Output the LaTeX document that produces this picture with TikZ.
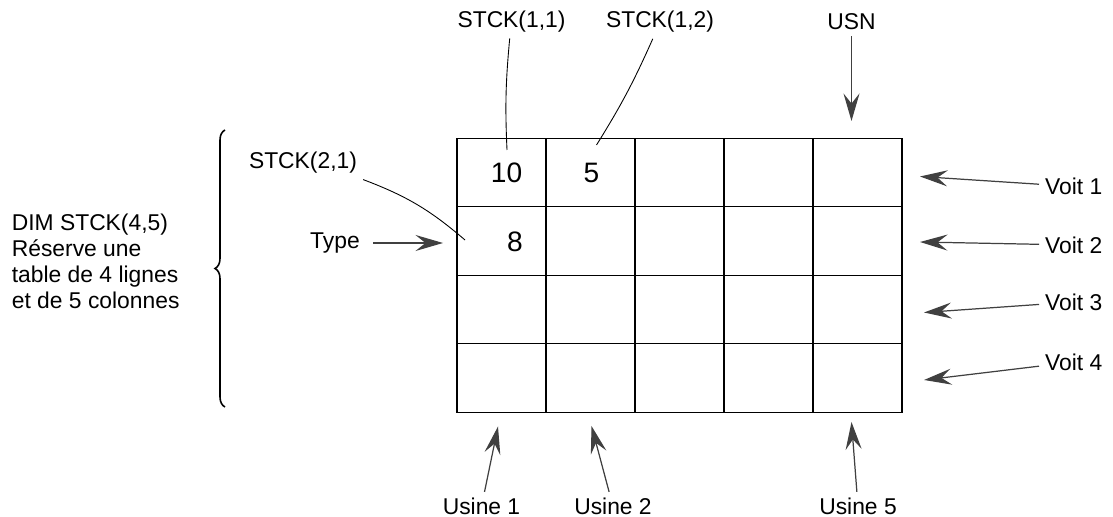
\documentclass[tikz,border=0pt]{standalone}
\usepackage{fontspec}
\setmainfont{Liberation Sans}
\usetikzlibrary{arrows.meta,decorations.pathreplacing}

\tikzstyle{cell} = [rectangle, draw, line width=.6pt, inner sep=0pt,
    minimum width=1.78cm, minimum height=1.37cm]
\tikzstyle{val} = [font=\fontsize{16}{18}\selectfont]
\tikzstyle{lbl} = [font=\fontsize{13}{15}\selectfont]
\tikzstyle{leader} = [draw, line width=.5pt]
\tikzstyle{pointer} = [draw=black!75, line width=.7pt,
    -{Stealth[length=5.5mm, width=3.2mm, inset=2mm, black!75]}]

\begin{document}
\begin{tikzpicture}
	\useasboundingbox (0,0) rectangle (22.26,10.34);
	% table STCK
	\node [cell] (c11) at (10.03,6.89) {};
	\node [cell] (c12) at (11.81,6.89) {};
	\node [cell] (c13) at (13.59,6.89) {};
	\node [cell] (c14) at (15.37,6.89) {};
	\node [cell] (c15) at (17.15,6.89) {};
	%
	\node [cell] (c21) at (10.03,5.52) {};
	\node [cell] (c22) at (11.81,5.52) {};
	\node [cell] (c23) at (13.59,5.52) {};
	\node [cell] (c24) at (15.37,5.52) {};
	\node [cell] (c25) at (17.15,5.52) {};
	%
	\node [cell] (c31) at (10.03,4.15) {};
	\node [cell] (c32) at (11.81,4.15) {};
	\node [cell] (c33) at (13.59,4.15) {};
	\node [cell] (c34) at (15.37,4.15) {};
	\node [cell] (c35) at (17.15,4.15) {};
	%
	\node [cell] (c41) at (10.03,2.78) {};
	\node [cell] (c42) at (11.81,2.78) {};
	\node [cell] (c43) at (13.59,2.78) {};
	\node [cell] (c44) at (15.37,2.78) {};
	\node [cell] (c45) at (17.15,2.78) {};
	%
	\node [val] (n11) at (10.13,6.88) {10};
	\node [val] (n12) at (11.83,6.88) {5};
	\node [val] (n21) at (10.30,5.51) {8};
	% labels above
	\node [lbl] (s11) at (10.23,9.91) {STCK(1,1)};
	\node [lbl] (s12) at (13.20,9.90) {STCK(1,2)};
	\node [lbl] (usn) at (17.03,9.90) {USN};
	\coordinate (p11) at (10.14,7.34);
	\coordinate (p12) at (11.93,7.44);
	\coordinate (pusn) at (17.03,7.92);
	\draw [leader] (s11) to[bend right=4] (p11);
	\draw [leader] (s12) to[bend left=4] (p12);
	\draw [pointer] (usn) -- (pusn);
	% labels left
	\node [lbl] (s21) at (6.06,7.08) {STCK(2,1)};
	\node [lbl] (type) at (6.70,5.48) {Type};
	\coordinate (p21) at (9.30,5.54);
	\coordinate (ptype) at (8.86,5.48);
	\draw [leader] (s21) to[bend left=10] (p21);
	\draw [pointer, shorten <=.15cm] (type) -- (ptype);
	%
	\draw [decorate, decoration={brace, amplitude=.2cm}, line width=.9pt]
		(4.5,2.2) -- (4.5,7.74);
	\node [lbl, anchor=north west, inner sep=0pt, align=left,
		font=\fontsize{13}{14.7}\selectfont] (dim) at (0.23,6.06)
		{DIM STCK(4,5)\\Réserve une\\table de 4 lignes\\et de 5 colonnes};
	% labels right
	\node [lbl, anchor=west] (v1) at (20.78,6.61) {Voit 1};
	\node [lbl, anchor=west] (v2) at (20.78,5.44) {Voit 2};
	\node [lbl, anchor=west] (v3) at (20.78,4.30) {Voit 3};
	\node [lbl, anchor=west] (v4) at (20.78,3.10) {Voit 4};
	\coordinate (t1) at (18.40,6.81);
	\coordinate (t2) at (18.40,5.50);
	\coordinate (t3) at (18.48,4.09);
	\coordinate (t4) at (18.48,2.74);
	\draw [pointer] (v1) -- (t1);
	\draw [pointer] (v2) -- (t2);
	\draw [pointer] (v3) -- (t3);
	\draw [pointer] (v4) -- (t4);
	% labels below
	\node [lbl] (u1) at (9.63,0.21) {Usine 1};
	\node [lbl] (u2) at (12.26,0.21) {Usine 2};
	\node [lbl] (u5) at (17.16,0.21) {Usine 5};
	\coordinate (a1) at (9.96,1.81);
	\coordinate (a2) at (11.83,1.82);
	\coordinate (a5) at (17.03,1.90);
	\draw [pointer] (u1) -- (a1);
	\draw [pointer] (u2) -- (a2);
	\draw [pointer] (u5) -- (a5);
\end{tikzpicture}
\end{document}
